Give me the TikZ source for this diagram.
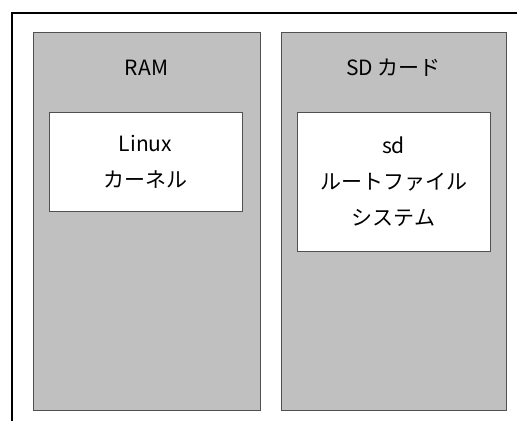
\documentclass[tikz,border=0pt]{standalone}
\usepackage{fontspec}
\newfontfamily\jp{Noto Sans CJK JP}
\definecolor{panelgray}{HTML}{C0C0C0}
\definecolor{edgegray}{HTML}{505050}
\tikzset{
  panel/.style={draw=edgegray, line width=1pt, fill=panelgray, inner sep=0pt, minimum width=#1},
  panel/.default=227pt,
  innerbox/.style={draw=edgegray, line width=1pt, fill=white, inner sep=0pt, minimum width=193pt},
  lbl/.style={font=\jp\fontsize{21}{36}\selectfont, align=center, inner sep=0pt}
}
\begin{document}
\begin{tikzpicture}[x=1pt,y=-1pt]
\useasboundingbox (0,0) rectangle (517,421);
\draw[line width=2pt] (11.5,421) -- (11.5,13) -- (517,13);
\node[panel=227pt, minimum height=378pt] (ramp) at (146.5,221) {};
\node[panel=225pt, minimum height=378pt] (sdp) at (393.5,221) {};
\node[lbl] (ram) at (146.5,68) {RAM};
\node[lbl] (sdc) at (393.5,68) {SD カード};
\node[innerbox, minimum height=99pt] (kbox) at (145.5,161.5) {};
\node[innerbox, minimum height=139pt] (rbox) at (393.5,181.5) {};
\node[lbl] (kernel) at (kbox.center) {Linux\\カーネル};
\node[lbl] (rootfs) at (rbox.center) {sd\\ルートファイル\\システム};
\end{tikzpicture}
\end{document}
